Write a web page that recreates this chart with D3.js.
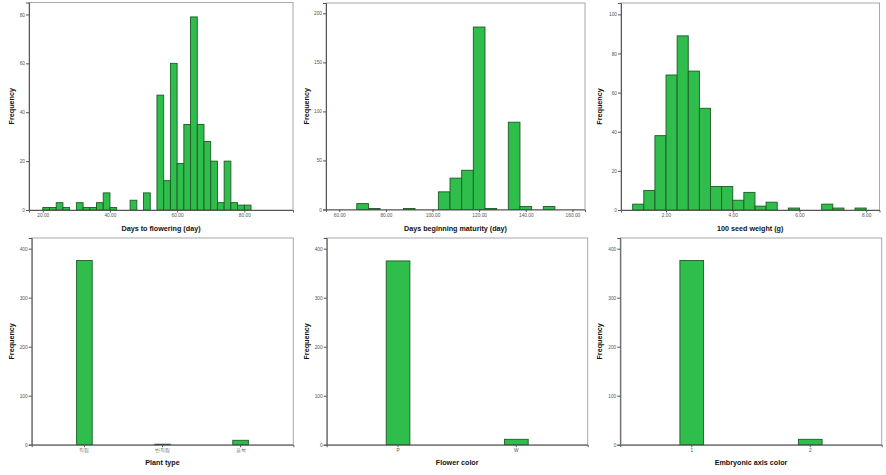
<!DOCTYPE html>
<html><head><meta charset="utf-8">
<script src="https://cdn.jsdelivr.net/npm/d3@7"></script>
<style>
html,body{margin:0;padding:0;background:#fff;}
svg{display:block;}
text{font-family:"Liberation Sans",Arial,sans-serif;}
</style></head>
<body>
<svg id="c" width="886" height="475"></svg>
<script>
// ---------- data ----------
// Days to flowering: bins of width 2 days (lower edges) and counts
const flowerStarts = [20,22,24,26,30,32,34,36,38,40,46,50,54,56,58,60,62,64,66,68,70,72,74,76,78,80];
const flowerCounts = [1,1,3,1,3,1,1,3,7,1,4,7,47,12,60,19,35,79,35,28,20,3,20,3,2,2];
const flowerBinWidth = 2;
const flowerTicks = [20,40,60,80];
const flowerYTicks = [0,20,40,60,80];

// Days beginning maturity: bins of width 5 days
const maturityStarts = [67.5,72.5,87.5,102.5,107.5,112.5,117.5,122.5,132.5,137.5,147.5];
const maturityCounts = [6,1,1,18,32,40,186,1,89,3,3];
const maturityBinWidth = 5;
const maturityTicks = [60,80,100,120,140,160];
const maturityYTicks = [0,50,100,150,200];

// 100 seed weight: bins of width 1/3 g
const seedStarts = [1.0,1.333,1.667,2.0,2.333,2.667,3.0,3.333,3.667,4.0,4.333,4.667,5.0,5.667,6.667,7.0,7.667];
const seedCounts = [3,10,38,69,89,71,52,12,12,5,9,2,4,1,3,1,1];
const seedBinWidth = 1/3;
const seedTicks = [2,4,6,8];
const seedYTicks = [0,20,40,60,80,100];

// Categorical
const plantTypeCats = ["직립","반직립","포복"];
const plantTypeCounts = [376,1,9];
const flowerColorCats = ["P","W"];
const flowerColorCounts = [375,11];
const axisColorCats = ["1","2"];
const axisColorCounts = [376,11];
const catYTicks = [0,100,200,300,400];

// ---------- drawing ----------
const svg = d3.select("#c");
const FILL = "#2fbd4b", STROKE = "#1d5a28";

function frame(g, L, R, T, B) {
  g.append("rect").attr("x", L).attr("y", T).attr("width", R - L).attr("height", B - T)
    .attr("fill", "none").attr("stroke", "#a8a8a8").attr("stroke-width", 1);
}

function yAxis(g, y, L, ticks) {
  const ax = g.append("g").attr("transform", `translate(${L},0)`)
    .call(d3.axisLeft(y).tickValues(ticks).tickSize(3).tickPadding(1).tickFormat(d3.format("d")));
  ax.select(".domain").attr("stroke", "#555");
  ax.selectAll(".tick line").attr("stroke", "#555");
  ax.selectAll("text").attr("font-size", 4.8).attr("fill", "#555");
}

function xAxis(g, axis, B) {
  const ax = g.append("g").attr("transform", `translate(0,${B})`).call(axis);
  ax.select(".domain").attr("stroke", "#555");
  ax.selectAll(".tick line").attr("stroke", "#555");
  ax.selectAll("text").attr("font-size", 4.8).attr("fill", "#555");
  return ax;
}

function titles(g, L, R, T, B, xTitle, yTitleX, xTitleY) {
  g.append("text").attr("x", (L + R) / 2).attr("y", xTitleY).attr("text-anchor", "middle")
    .attr("dominant-baseline", "middle").attr("font-size", 7.2).attr("font-weight", "bold")
    .attr("fill", "#111").text(xTitle);
  g.append("text").attr("transform", `translate(${yTitleX},${(T + B) / 2}) rotate(-90)`)
    .attr("text-anchor", "middle").attr("dominant-baseline", "middle").attr("font-size", 7.2)
    .attr("font-weight", "bold").attr("fill", "#111").text("Frequency");
}

function histPanel(p) {
  const g = svg.append("g");
  const x = d3.scaleLinear().domain(p.xDomain).range([p.L, p.R]);
  const y = d3.scaleLinear().domain([0, p.yMax]).range([p.B, p.T]);
  frame(g, p.L, p.R, p.T, p.B);
  g.selectAll("rect.bar").data(p.starts.map((s, i) => ({ s, c: p.counts[i] })))
    .enter().append("rect").attr("class", "bar")
    .attr("x", d => x(d.s)).attr("width", d => x(d.s + p.bw) - x(d.s))
    .attr("y", d => y(d.c)).attr("height", d => y(0) - y(d.c))
    .attr("fill", FILL).attr("stroke", STROKE).attr("stroke-width", 0.9);
  yAxis(g, y, p.L, p.yTicks);
  xAxis(g, d3.axisBottom(x).tickValues(p.xTicks).tickSize(2.5).tickPadding(1.5).tickFormat(d3.format(".2f")), p.B);
  // redraw bottom line over bars
  titles(g, p.L, p.R, p.T, p.B, p.title, p.yTitleX, p.xTitleY);
}

function catPanel(p) {
  const g = svg.append("g");
  const x = d3.scaleBand().domain(p.cats).range([p.L, p.R]).paddingInner(0.8).paddingOuter(p.pO);
  const y = d3.scaleLinear().domain([0, p.yMax]).range([p.B, p.T]);
  frame(g, p.L, p.R, p.T, p.B);
  g.selectAll("rect.bar").data(p.cats.map((c, i) => ({ c, v: p.counts[i] })))
    .enter().append("rect").attr("class", "bar")
    .attr("x", d => x(d.c)).attr("width", x.bandwidth())
    .attr("y", d => y(d.v)).attr("height", d => y(0) - y(d.v))
    .attr("fill", FILL).attr("stroke", STROKE).attr("stroke-width", 0.9);
  yAxis(g, y, p.L, catYTicks);
  const ax = xAxis(g, d3.axisBottom(x).tickSize(2.5).tickPadding(1.5), p.B);
  ax.selectAll(".tick text").attr("font-family", "'Noto Sans CJK KR','Liberation Sans',sans-serif");
  titles(g, p.L, p.R, p.T, p.B, p.title, p.yTitleX, 463);
}

histPanel({ L: 29, R: 293, T: 2.5, B: 210, xDomain: [15.9, 94.5], yMax: 84.9,
  starts: flowerStarts, counts: flowerCounts, bw: flowerBinWidth,
  xTicks: flowerTicks, yTicks: flowerYTicks, title: "Days to flowering (day)", yTitleX: 12, xTitleY: 229 });

histPanel({ L: 326, R: 585, T: 3, B: 209.5, xDomain: [54.3, 165.4], yMax: 210.5,
  starts: maturityStarts, counts: maturityCounts, bw: maturityBinWidth,
  xTicks: maturityTicks, yTicks: maturityYTicks, title: "Days beginning maturity (day)", yTitleX: 307, xTitleY: 229 });

histPanel({ L: 621, R: 879.5, T: 3, B: 210, xDomain: [0.65, 8.4], yMax: 105.8,
  starts: seedStarts, counts: seedCounts, bw: seedBinWidth,
  xTicks: seedTicks, yTicks: seedYTicks, title: "100 seed weight (g)", yTitleX: 600, xTitleY: 229 });

catPanel({ L: 31.7, R: 293.3, T: 238, B: 444.7, yMax: 421.8, pO: 0.575,
  cats: plantTypeCats, counts: plantTypeCounts, title: "Plant type", yTitleX: 12 });

catPanel({ L: 326.7, R: 587.7, T: 238, B: 444.7, yMax: 421.8, pO: 0.503,
  cats: flowerColorCats, counts: flowerColorCounts, title: "Flower color", yTitleX: 307 });

catPanel({ L: 620.3, R: 881.7, T: 238, B: 444.7, yMax: 421.8, pO: 0.503,
  cats: axisColorCats, counts: axisColorCounts, title: "Embryonic axis color", yTitleX: 600 });
</script>
</body></html>
